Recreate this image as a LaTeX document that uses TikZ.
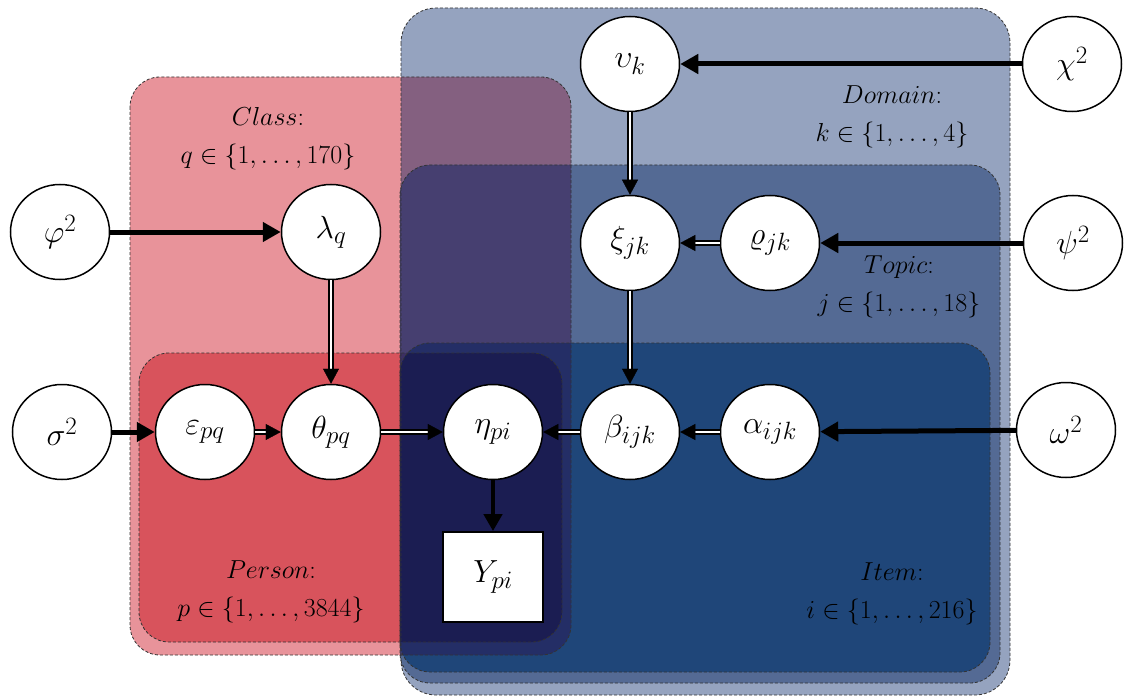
\RequirePackage{fix-cm}
\documentclass[tikz,border=0pt]{standalone}
\usetikzlibrary{arrows.meta,shapes.geometric}
\DeclareMathSizes{32}{32}{25}{18}
\DeclareMathSizes{26}{26}{19}{14}

% plate fills (single plates and their overlaps)
\definecolor{cD}{RGB}{149,163,191}
\definecolor{cDT}{RGB}{84,106,148}
\definecolor{cDTI}{RGB}{31,70,121}
\definecolor{cC}{RGB}{232,147,154}
\definecolor{cP}{RGB}{216,83,92}
\definecolor{cCD}{RGB}{132,96,128}
\definecolor{cCDT}{RGB}{70,63,112}
\definecolor{cCPDT}{RGB}{60,48,98}
\definecolor{cCDTI}{RGB}{36,46,102}
\definecolor{cPI}{RGB}{27,29,82}

\newcommand{\dblarrow}[2]{%
  \draw[dblshaft] (#1) -- (#2);
  \draw[dbltip] (#1) -- (#2);}

\tikzset{
  shpClass/.style={insert path={(130,77) rectangle (571,655)}},
  shpPerson/.style={insert path={(139,353) rectangle (562,642)}},
  shpDomain/.style={insert path={(401,8) rectangle (1010,695)}},
  shpTopic/.style={insert path={(400,165) rectangle (1000,683)}},
  shpItem/.style={insert path={(400,343) rectangle (990,672)}},
  plate/.style={draw=black!80, dash pattern=on 3pt off 2pt, line width=0.8pt},
  var/.style={ellipse, draw=black, line width=1.5pt, fill=white,
    minimum width=99pt, minimum height=95pt, inner sep=0pt,
    font=\fontsize{32}{34}\selectfont},
  obs/.style={rectangle, draw=black, line width=1.8pt, fill=white,
    minimum width=100pt, minimum height=90pt, inner sep=0pt,
    font=\fontsize{32}{34}\selectfont},
  lbl/.style={align=center, inner sep=0pt, font=\fontsize{26}{38}\selectfont},
  heavy/.style={line width=5pt, -{Triangle[length=18pt,width=19pt]}},
  obsarrow/.style={line width=4.5pt, -{Triangle[length=17pt,width=18pt]}},
  dblshaft/.style={double, double distance=1.8pt, line width=1.7pt, shorten >=14pt},
  dbltip/.style={draw=white, line width=0.3pt,
    -{Triangle[length=15pt,width=16pt,color=black]}},
}

\begin{document}
\begin{tikzpicture}[x=1pt,y=-1pt]
\useasboundingbox (0,0) rectangle (1125,698);

% ---- plates ----
\fill[cC, rounded corners=30pt, shpClass];
\fill[cP, rounded corners=30pt, shpPerson];
\fill[cD, rounded corners=35pt, shpDomain];
\begin{scope}
  \clip[rounded corners=30pt, shpClass];
  \fill[cCD, rounded corners=35pt, shpDomain];
\end{scope}
\fill[cDT, rounded corners=30pt, shpTopic];
\begin{scope}
  \clip[rounded corners=30pt, shpClass];
  \fill[cCDT, rounded corners=30pt, shpTopic];
\end{scope}
\begin{scope}
  \clip[rounded corners=30pt, shpPerson];
  \fill[cCPDT, rounded corners=30pt, shpTopic];
\end{scope}
\fill[cDTI, rounded corners=30pt, shpItem];
\begin{scope}
  \clip[rounded corners=30pt, shpClass];
  \fill[cCDTI, rounded corners=30pt, shpItem];
\end{scope}
\begin{scope}
  \clip[rounded corners=30pt, shpPerson];
  \fill[cPI, rounded corners=30pt, shpItem];
\end{scope}

\path[plate, rounded corners=30pt, shpClass];
\path[plate, rounded corners=30pt, shpPerson];
\path[plate, rounded corners=35pt, shpDomain];
\path[plate, rounded corners=30pt, shpTopic];
\path[plate, rounded corners=30pt, shpItem];

% ---- plate labels ----
\node[lbl] (lclass)  at (268,139) {$Class$:\\$q\in\{1,\ldots,170\}$};
\node[lbl] (ldomain) at (892,117) {$Domain$:\\$k\in\{1,\ldots,4\}$};
\node[lbl] (ltopic)  at (899,287) {$Topic$:\\$j\in\{1,\ldots,18\}$};
\node[lbl] (lperson) at (271,592) {$Person$:\\$p\in\{1,\ldots,3844\}$};
\node[lbl] (litem)   at (892,594) {$Item$:\\$i\in\{1,\ldots,216\}$};

% ---- variables ----
\node[var] (ups) at (630,64)  {$\upsilon_k$};
\node[var] (chi) at (1072,64) {$\chi^2$};
\node[var] (phi) at (60,232)  {$\varphi^2$};
\node[var] (lam) at (331,232) {$\lambda_q$};
\node[var] (xi)  at (630,243) {$\xi_{jk}$};
\node[var] (rho) at (770,243) {$\varrho_{jk}$};
\node[var] (psi) at (1073,243) {$\psi^2$};
\node[var] (sig) at (62,432)  {$\sigma^2$};
\node[var] (eps) at (205,432) {$\varepsilon_{pq}$};
\node[var] (the) at (331,432) {$\theta_{pq}$};
\node[var] (eta) at (493,432) {$\eta_{pi}$};
\node[var] (bet) at (630,432) {$\beta_{ijk}$};
\node[var] (alp) at (770,432) {$\alpha_{ijk}$};
\node[var] (omg) at (1066,430) {$\omega^2$};
\node[obs] (Y)   at (493,577) {$Y_{pi}$};

% ---- connectors ----
\draw[heavy] (chi) -- (ups);
\draw[heavy] (psi) -- (rho);
\draw[heavy] (omg) -- (alp);
\draw[heavy] (phi) -- (lam);
\draw[heavy] (sig) -- (eps);
\draw[obsarrow] (eta) -- (Y);
\dblarrow{ups}{xi}
\dblarrow{rho}{xi}
\dblarrow{xi}{bet}
\dblarrow{alp}{bet}
\dblarrow{bet}{eta}
\dblarrow{lam}{the}
\dblarrow{eps}{the}
\dblarrow{the}{eta}
\end{tikzpicture}
\end{document}
